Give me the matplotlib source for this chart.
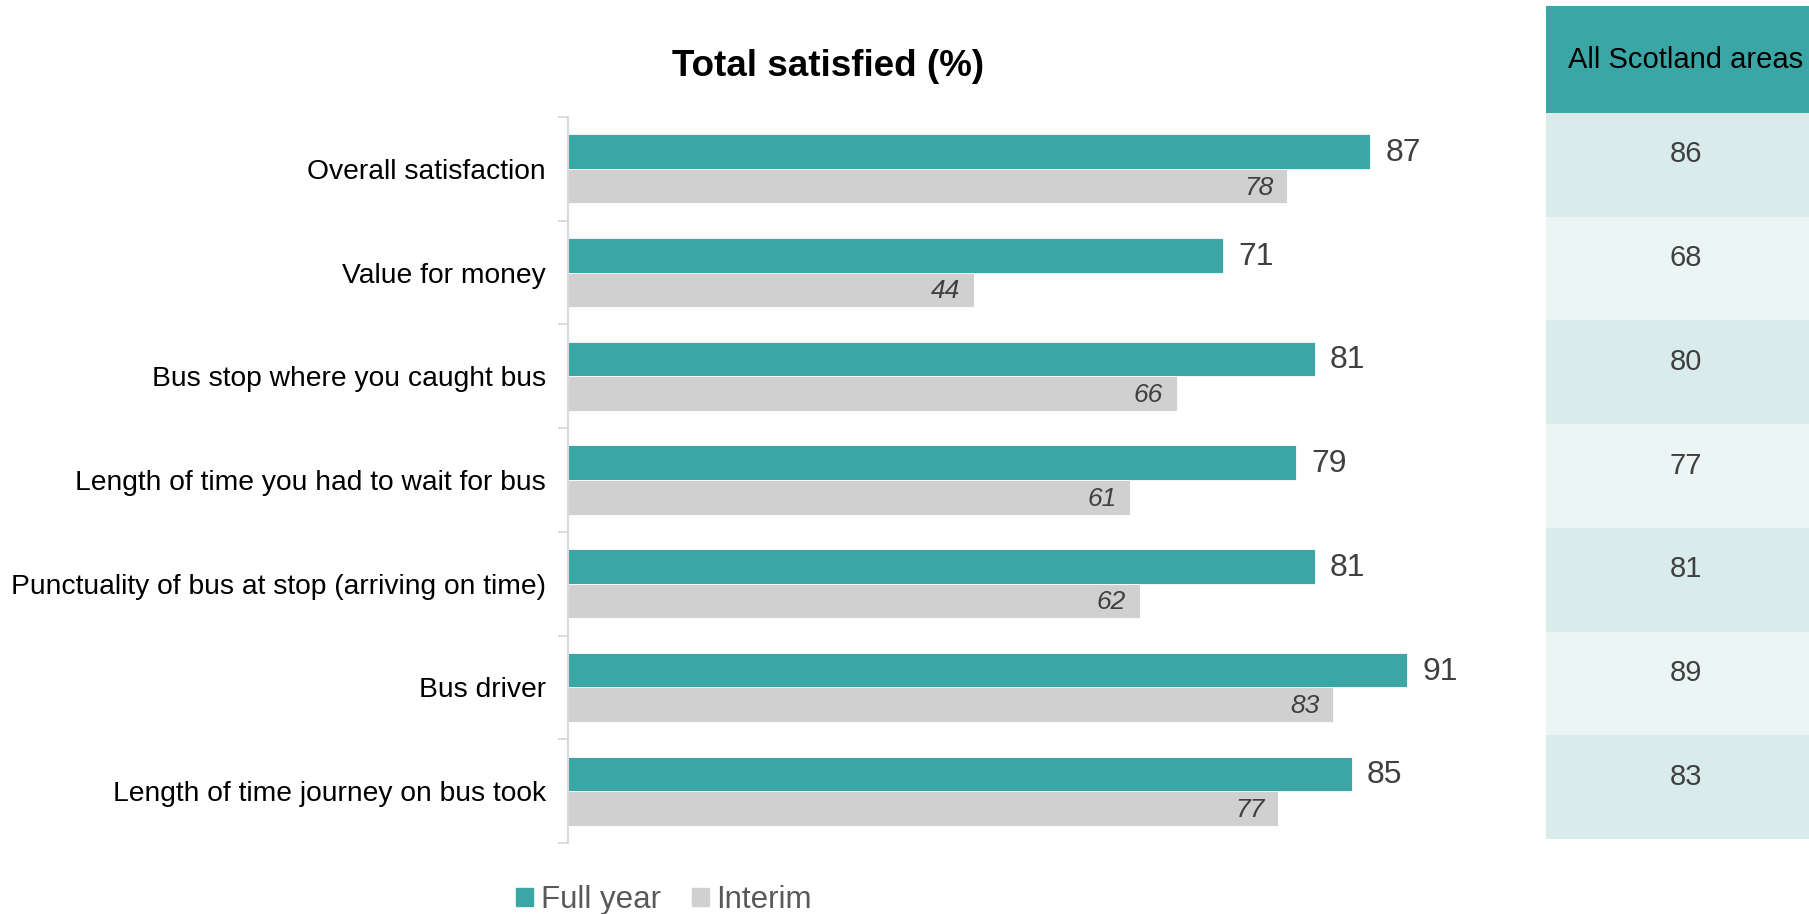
import numpy as np
import matplotlib
matplotlib.use("Agg")
import matplotlib.pyplot as plt
import matplotlib.patches as mpatches

plt.rcParams['font.family'] = ['Liberation Sans', 'DejaVu Sans']

# Survey results (percent satisfied)
categories = ["Overall satisfaction", "Value for money", "Bus stop where you caught bus",
              "Length of time you had to wait for bus",
              "Punctuality of bus at stop (arriving on time)", "Bus driver",
              "Length of time journey on bus took"]
full_year = [87, 71, 81, 79, 81, 91, 85]
interim = [78, 44, 66, 61, 62, 83, 77]
scotland = [86, 68, 80, 77, 81, 89, 83]
table_header = "All Scotland areas"

teal = '#3aa6a6'
grey = '#d0d0d0'
text_grey = '#404040'
axis_grey = '#d9d9d9'

W, H = 1809, 914
fig = plt.figure(figsize=(W / 100, H / 100), dpi=100)

# Bar chart
ax = fig.add_axes([568 / W, 1 - 843 / H, 922 / W, 726 / H])
y = np.arange(len(categories))
bh = 1 / 3
ax.barh(y - bh / 2, full_year, height=bh, color=teal, edgecolor='white', linewidth=0.6)
ax.barh(y + bh / 2, interim, height=bh, color=grey, edgecolor='white', linewidth=0.6)
ax.set_xlim(0, 100)
ax.set_ylim(len(categories) - 0.5, -0.5)

for i, (f, v) in enumerate(zip(full_year, interim)):
    ax.annotate(str(f), (f, i - bh / 2), xytext=(11, -1), textcoords='offset points',
                ha='left', va='center', fontsize=23, color=text_grey)
    ax.annotate(str(v), (v, i + bh / 2), xytext=(-10, -1), textcoords='offset points',
                ha='right', va='center', fontsize=19, color=text_grey, style='italic')

ax.set_yticks(y)
ax.set_yticklabels(categories, fontsize=20.3)
ax.set_yticks(np.arange(-0.5, len(categories)), minor=True)
ax.tick_params(axis='y', which='major', length=0, pad=16)
ax.tick_params(axis='y', which='minor', length=7, width=1.3, color=axis_grey)
ax.set_xticks([])
for s in ['top', 'right', 'bottom']:
    ax.spines[s].set_visible(False)
ax.spines['left'].set_color(axis_grey)
ax.spines['left'].set_linewidth(1.5)

fig.text(828 / W, 1 - 66 / H, "Total satisfied (%)", ha='center', va='center',
         fontsize=26.5, fontweight='bold')

# Comparison table on the right
tx = fig.add_axes([1546 / W, 1 - 839 / H, 280 / W, 833 / H])
hdr = 107 / 103.7
tx.set_xlim(0, 1)
tx.set_ylim(hdr + len(scotland), 0)
tx.axis('off')
tx.add_patch(mpatches.Rectangle((0, 0), 1, hdr, color=teal, lw=0))
tx.text(0.5, hdr / 2, table_header, ha='center', va='center', fontsize=21, color='black')
for i, val in enumerate(scotland):
    top = hdr + i
    tx.add_patch(mpatches.Rectangle((0, top), 1, 1, lw=0,
                                    color='#d9ebea' if i % 2 == 0 else '#ebf5f4'))
    tx.text(0.5, top + 0.40, str(val), ha='center', va='center', fontsize=21, color=text_grey)

# Legend
handles = [mpatches.Patch(color=teal, label="Full year"),
           mpatches.Patch(color=grey, label="Interim")]
fig.legend(handles=handles, loc='center', bbox_to_anchor=(664 / W, 1 - 900 / H), ncol=2,
           frameon=False, fontsize=22.5, labelcolor='#595959', handlelength=0.54,
           handleheight=0.54, handletextpad=0.25, columnspacing=1.0)

fig.savefig("out.png", dpi=100)
